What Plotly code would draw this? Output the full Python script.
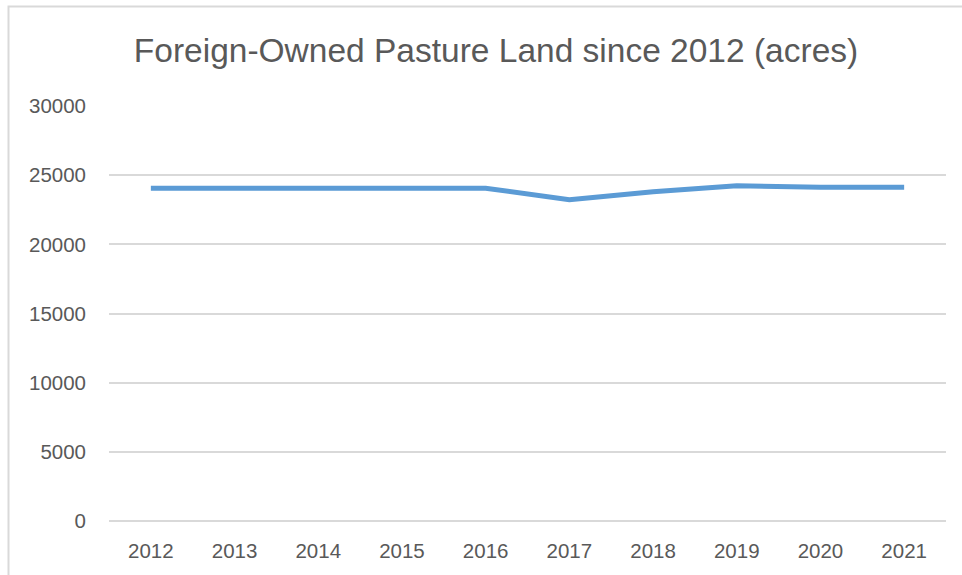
import plotly.graph_objects as go

years = ["2012", "2013", "2014", "2015", "2016", "2017", "2018", "2019", "2020", "2021"]
acres = [24060, 24060, 24060, 24060, 24060, 23220, 23800, 24230, 24130, 24130]
y_ticks = [0, 5000, 10000, 15000, 20000, 25000, 30000]

TXT = "#595959"
FONT = "Liberation Sans"
GRID = "#d9d9d9"

fig = go.Figure()
fig.add_trace(go.Scatter(
    x=years, y=acres, mode="lines",
    line=dict(color="#5B9BD5", width=5),
    hoverinfo="x+y", showlegend=False,
))

# plot area in px: x 109..946, y 106..521
L, R, T, B = 109, 946, 106, 521
W, H = R - L, B - T
def px(x):
    return (x - L) / W
def py(y):
    return (B - y) / H

fig.update_layout(
    width=962, height=575,
    margin=dict(l=L, r=962 - R, t=T, b=575 - B, pad=0),
    paper_bgcolor="white", plot_bgcolor="white",
    title=dict(
        text="Foreign-Owned Pasture Land since 2012 (acres)",
        x=496 / 962, xref="container", xanchor="center",
        y=1 - 50 / 575, yref="container", yanchor="middle",
        font=dict(family=FONT, size=33.5, color=TXT),
    ),
    xaxis=dict(
        type="category", range=[-0.5, 9.5],
        showgrid=False, zeroline=False, showline=False, ticks="",
        tickfont=dict(family=FONT, size=20.5, color=TXT),
        ticklabelstandoff=15,
    ),
    yaxis=dict(
        range=[0, 30000], tickvals=y_ticks,
        ticktext=[str(v) for v in y_ticks],
        showgrid=True, gridcolor=GRID, gridwidth=1.5,
        zeroline=True, zerolinecolor=GRID, zerolinewidth=1.5,
        showline=False, ticks="",
        tickfont=dict(family=FONT, size=20.5, color=TXT),
        ticklabelstandoff=22,
    ),
    shapes=[dict(
        type="path", xref="paper", yref="paper",
        path=f"M {px(8.5)} {py(600)} L {px(8.5)} {py(6.5)} L {px(1000)} {py(6.5)}",
        line=dict(color=GRID, width=2),
    )],
)

fig.write_html(
    "out.html",
    config={"displayModeBar": False},
    post_script="document.body.style.margin='0';document.body.style.overflow='hidden';",
)
